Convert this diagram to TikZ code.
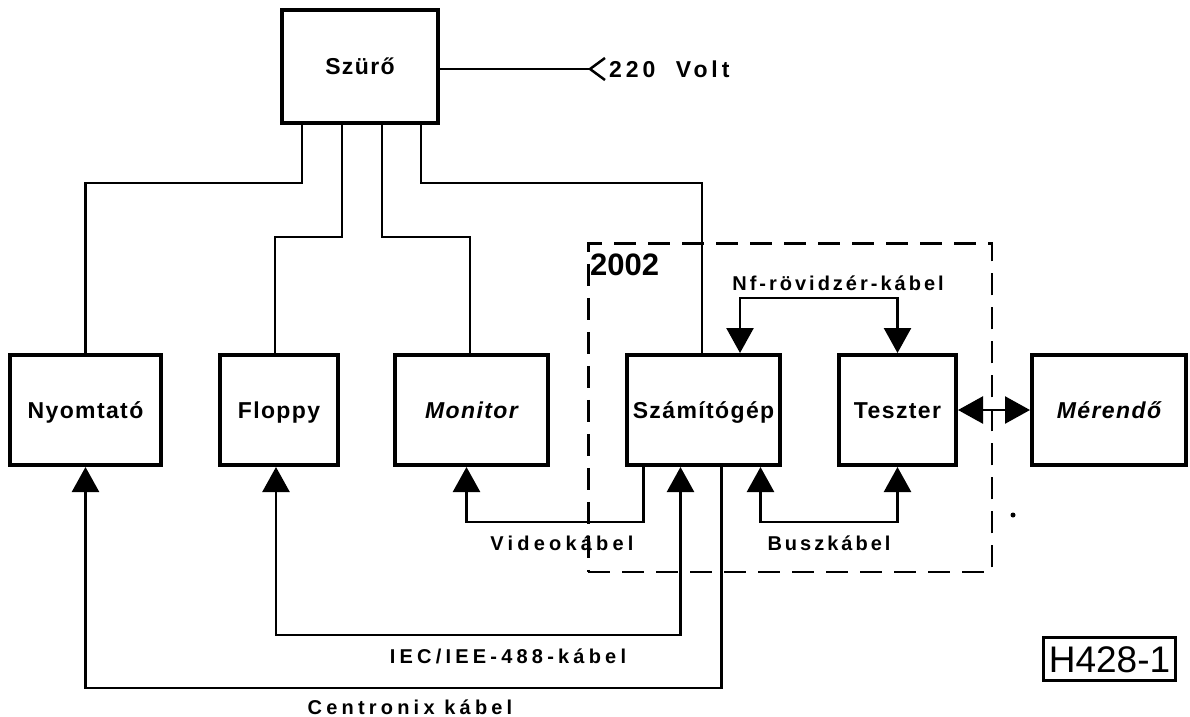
\documentclass[tikz,border=0pt]{standalone}
\usepackage{fontspec}
\setmainfont{Liberation Sans}
\newfontfamily\boxfont[LetterSpace=6]{Liberation Sans}
\newfontfamily\lblfont[LetterSpace=15]{Liberation Sans}
\newfontfamily\lblwfont[LetterSpace=21]{Liberation Sans}
\newfontfamily\voltfont[LetterSpace=17]{Liberation Sans}
\usetikzlibrary{arrows.meta}
\begin{document}
\begin{tikzpicture}[x=1pt,y=-1pt,
  >={Triangle[length=25pt,width=27pt]},
  blk/.style={draw,line width=4pt,minimum width=#1,minimum height=110pt,inner sep=0pt,
    font=\boxfont\bfseries\fontsize{23}{23}\selectfont,text height=16.5pt,text depth=0pt},
  itblk/.style={font=\boxfont\bfseries\itshape\fontsize{23}{23}\selectfont},
  wire/.style={line width=2.5pt},
  lbl/.style={inner sep=0pt,anchor=base,font=\lblfont\bfseries\fontsize{20}{20}\selectfont},
  wlbl/.style={inner sep=0pt,anchor=base,font=\lblwfont\bfseries\fontsize{20}{20}\selectfont},
  sysbox/.style={draw,line width=2.5pt,dash pattern=on 22pt off 12pt,inner sep=0pt}
]
\useasboundingbox (0,0) rectangle (1190,716);

% boxes
\node[blk=156pt,minimum height=113pt] (szuro) at (360,66.5) {Szürő};
\node[blk=151pt] (nyom) at (85.5,410) {Nyomtató};
\node[blk=118pt] (floppy) at (279,410) {Floppy};
\node[blk=153pt,itblk] (monitor) at (471.5,410) {Monitor};
\node[blk=153pt] (szamito) at (703.5,410) {Számítógép};
\node[blk=117pt] (teszter) at (897.5,410) {Teszter};
\node[blk=154pt,itblk] (merendo) at (1109,410) {Mérendő};

% 2002 dashed system box
\node[sysbox,minimum width=403.5pt,minimum height=328.5pt] (sys) at (790,407.5) {};
\node[inner sep=0pt,anchor=base west,font=\bfseries\fontsize{31}{31}\selectfont] (t2002) at (590,275) {2002};

% mains
\coordinate (plug) at (590,69);
\node[inner sep=0pt,anchor=base west,font=\voltfont\bfseries\fontsize{23}{23}\selectfont] (volt) at (609,77.5) {220\ \ Volt};
\draw[wire] (szuro.east |- plug) -- (plug);
\draw[wire] (605,58) -- (plug) -- (605,80);

% power distribution from filter
\draw[wire] ([xshift=-58pt]szuro.south) -- ++(0,58) -| (nyom.north);
\draw[wire] ([xshift=-18pt]szuro.south) -- ++(0,112) -| ([xshift=-4pt]floppy.north);
\draw[wire] ([xshift=22pt]szuro.south) -- ++(0,112) -| ([xshift=-1.5pt]monitor.north);
\draw[wire] ([xshift=61pt]szuro.south) -- ++(0,58) -| ([xshift=-1.5pt]szamito.north);

% Nf short cable
\draw[wire,<->] ([xshift=36.5pt]szamito.north) -- ++(0,-55) -| (teszter.north);
\node[lbl] (nflbl) at (838,290) {Nf-rövidzér-kábel};

% tester - DUT
\draw[wire,<->] (teszter.east) -- (merendo.west);

% bottom cables
\draw[wire,->] ([xshift=-60pt]szamito.south) -- ++(0,55) -| ([xshift=-5pt]monitor.south);
\draw[wire,<->] ([xshift=57pt]szamito.south) -- ++(0,55) -| (teszter.south);
\draw[wire,<->] ([xshift=-23pt]szamito.south) -- ++(0,168) -| ([xshift=-3pt]floppy.south);
\draw[wire,->] ([xshift=18pt]szamito.south) -- ++(0,221) -| (nyom.south);

\node[wlbl] (vidlbl) at (562,550) {Videokábel};
\node[lbl] (buszlbl) at (829,550) {Buszkábel};
\node[wlbl] (ieclbl) at (508,663) {IEC/IEE-488-kábel};
\node[wlbl] (cenlbl) at (410,714) {Centronix\ kábel};

% figure code
\node[draw,line width=3pt,minimum width=132pt,minimum height=43pt,inner sep=0pt,
  font=\fontsize{37}{37}\selectfont,text height=26.5pt,text depth=0pt] (code) at (1109.5,659) {H428-1};

% stray dot
\fill (1013,515) circle (2.5);
\end{tikzpicture}
\end{document}
